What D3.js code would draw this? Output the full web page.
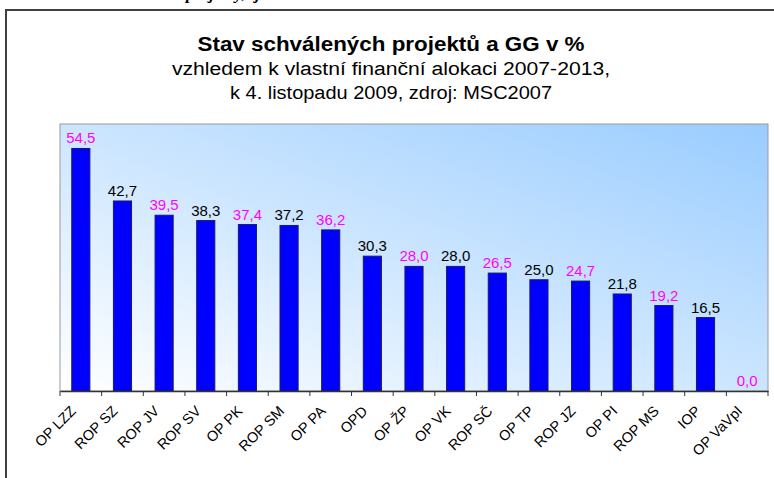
<!DOCTYPE html>
<html>
<head>
<meta charset="utf-8">
<script src="https://cdn.jsdelivr.net/npm/d3@7"></script>
<style>
  body { margin: 0; background: #fff; }
  text { font-family: Arial, "Liberation Sans", sans-serif; }
</style>
</head>
<body>
<div id="chart-container"></div>
<script>
// data
const categories = ["OP LZZ", "ROP SZ", "ROP JV", "ROP SV", "OP PK", "ROP SM", "OP PA", "OPD", "OP ŽP",
  "OP VK", "ROP SČ", "OP TP", "ROP JZ", "OP PI", "ROP MS", "IOP", "OP VaVpI"];
const values = [54.5, 42.7, 39.5, 38.3, 37.4, 37.2, 36.2, 30.3, 28.0, 28.0, 26.5, 25.0, 24.7, 21.8, 19.2, 16.5, 0.0];
const titleText = "Stav schválených projektů a GG v %";
const subtitleLines = ["vzhledem k vlastní finanční alokaci 2007-2013,", "k 4. listopadu 2009, zdroj: MSC2007"];
const yDomain = [0, 60];

const data = categories.map((c, i) => ({ name: c, value: values[i] }));

let chartFWidth = 774, chartFHeight = 478;
let chartMargin = {top: 124, right: 6, bottom: 87, left: 60};
let chartWidth = chartFWidth - chartMargin.left - chartMargin.right,
  chartHeight = chartFHeight - chartMargin.top - chartMargin.bottom;

const svg = d3.select("#chart-container").append("svg")
  .attr("width", chartFWidth)
  .attr("height", chartFHeight);

// page frame + the line of document text cut off above it
svg.append("text")
  .attr("x", 186).attr("y", -1)
  .style("font-family", "'Liberation Serif', serif")
  .style("font-style", "italic")
  .style("font-weight", "bold")
  .style("font-size", "17px")
  .text("projekty, tj.");

svg.append("path")
  .attr("d", "M6,478V10H774")
  .attr("fill", "none")
  .attr("stroke", "#404040")
  .attr("stroke-width", 2);

// titles (the reference type runs a bit wide, so fix the widths)
svg.append("text")
  .attr("x", 391).attr("y", 51)
  .attr("text-anchor", "middle")
  .attr("textLength", 387)
  .attr("lengthAdjust", "spacingAndGlyphs")
  .style("font-weight", "bold")
  .style("font-size", "20px")
  .text(titleText);

const subtitleWidths = [438, 322];
svg.selectAll(".subtitle")
  .data(subtitleLines)
  .enter().append("text")
    .attr("class", "subtitle")
    .attr("x", 391)
    .attr("y", (d, i) => 75 + i * 23.5)
    .attr("text-anchor", "middle")
    .attr("textLength", (d, i) => subtitleWidths[i])
    .attr("lengthAdjust", "spacingAndGlyphs")
    .style("font-size", "18px")
    .text(d => d);

const defs = svg.append("defs");
const grad = defs.append("linearGradient")
  .attr("id", "plot-bg")
  .attr("x1", 0).attr("y1", 1)
  .attr("x2", 1).attr("y2", 0);
grad.append("stop").attr("offset", 0).attr("stop-color", "#ffffff");
grad.append("stop").attr("offset", 1).attr("stop-color", "#99ccff");

const canvas = svg.append("g")
  .attr("transform", `translate(${chartMargin.left}, ${chartMargin.top})`);

const xScale = d3.scaleBand()
  .domain(categories)
  .range([0, chartWidth])
  .paddingInner(0.565)
  .paddingOuter(0.2825);

const yScale = d3.scaleLinear()
  .domain(yDomain)
  .range([chartHeight, 0]);

canvas.append("rect")
  .attr("width", chartWidth)
  .attr("height", chartHeight)
  .attr("fill", "url(#plot-bg)")
  .attr("stroke", "#9a9a9a")
  .attr("stroke-width", 1);

// bars
canvas.selectAll(".bar")
  .data(data)
  .enter().append("rect")
    .classed("bar", true)
    .attr("x", d => xScale(d.name))
    .attr("y", d => yScale(d.value))
    .attr("width", xScale.bandwidth())
    .attr("height", d => chartHeight - yScale(d.value))
    .attr("fill", "#0000ff")
    .attr("stroke", "#1a1a66")
    .attr("stroke-width", 1);

// value labels
const fmt = v => d3.format(".1f")(v).replace(".", ",");
canvas.selectAll(".value-label")
  .data(data)
  .enter().append("text")
    .classed("value-label", true)
    .attr("x", d => xScale(d.name) + xScale.bandwidth() / 2)
    .attr("y", d => yScale(d.value) - 5)
    .attr("text-anchor", "middle")
    .attr("fill", (d, i) => i % 2 === 0 ? "#ff00ff" : "#000000")
    .style("font-size", "15px")
    .text(d => fmt(d.value));

// x axis, category ticks between bars
const xAxis = canvas.append("g")
  .attr("id", "x-axis")
  .attr("transform", `translate(0, ${chartHeight})`)
  .call(d3.axisBottom(xScale).tickSize(0).tickSizeOuter(0));

xAxis.select(".domain").attr("stroke", "#333").attr("stroke-width", 1.5);
xAxis.selectAll("text")
  .attr("x", 0).attr("y", 0).attr("dy", 0)
  .attr("transform", "translate(-4, 21) rotate(-45)")
  .style("text-anchor", "end")
  .style("font-size", "14.5px")
  .style("font-family", "Arial, 'Liberation Sans', sans-serif")
  .attr("fill", "#000");

const step = xScale.step();
xAxis.selectAll(".cat-tick")
  .data(categories.concat([null]))
  .enter().append("line")
    .classed("cat-tick", true)
    .attr("x1", (d, i) => i * step)
    .attr("x2", (d, i) => i * step)
    .attr("y1", 0)
    .attr("y2", 5)
    .attr("stroke", "#333");
</script>
</body>
</html>
